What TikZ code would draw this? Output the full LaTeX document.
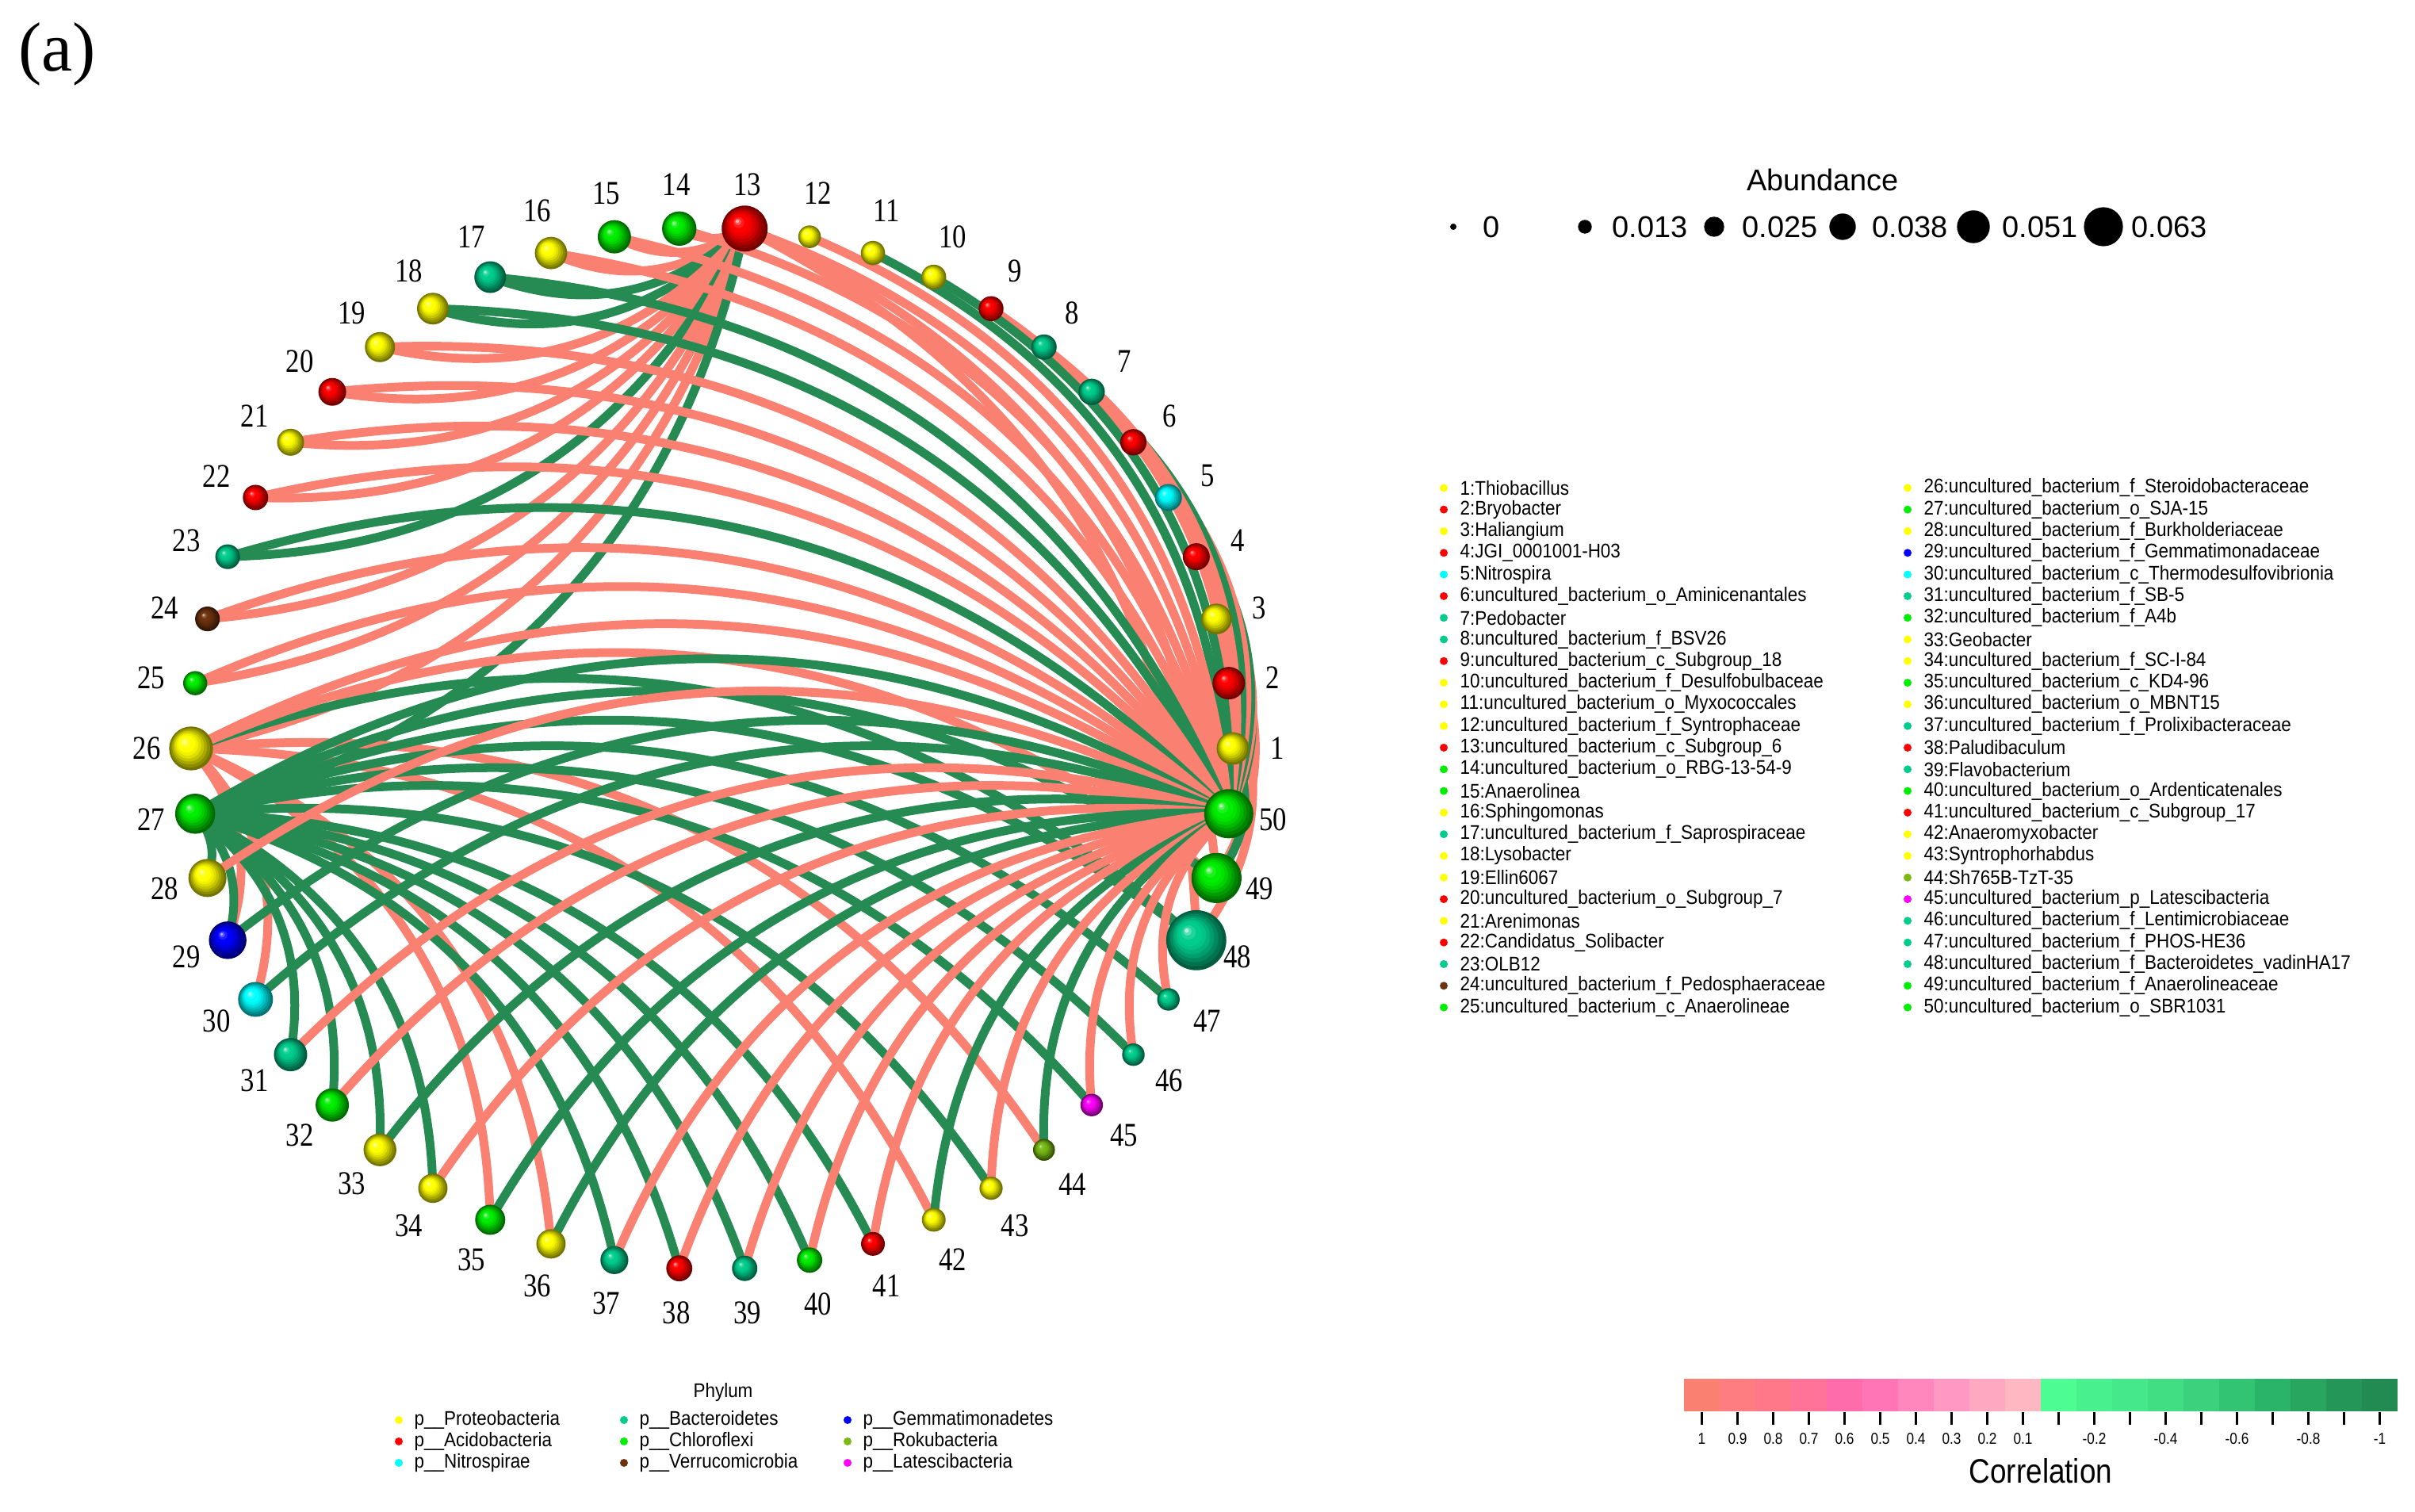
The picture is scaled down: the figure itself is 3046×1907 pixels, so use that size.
\documentclass[tikz,border=0pt]{standalone}
\usepackage{fontspec}
\setmainfont{Liberation Serif}
\newfontfamily\lblfont[FakeStretch=0.83]{Liberation Serif}
\newfontfamily\legfont[FakeStretch=0.9]{Liberation Sans}
\newfontfamily\absfont{Liberation Sans}
\newfontfamily\cbfont[FakeStretch=0.86]{Liberation Sans}
\usetikzlibrary{calc}
\pgfdeclarelayer{edges}
\pgfsetlayers{edges,main}
\definecolor{cY}{RGB}{255,255,0}
\definecolor{cR}{RGB}{255,0,0}
\definecolor{cC}{RGB}{0,255,255}
\definecolor{cB}{RGB}{0,205,140}
\definecolor{cG}{RGB}{0,238,0}
\definecolor{cBr}{RGB}{110,50,15}
\definecolor{cBl}{RGB}{0,0,255}
\definecolor{cRk}{RGB}{120,185,20}
\definecolor{cM}{RGB}{255,0,255}
\definecolor{esal}{RGB}{250,128,114}
\definecolor{egrn}{RGB}{38,139,82}
\tikzset{
  sphere/.style={circle, inner sep=0pt, draw=none, minimum size=#1},
  conn/.style={line width=1.1mm},
  numlbl/.style={font=\lblfont\fontsize{11.9}{12}\selectfont, inner sep=0pt},
  legtext/.style={font=\legfont\fontsize{7.1}{8}\selectfont, anchor=west, inner sep=0pt},
  abstext/.style={font=\absfont\fontsize{10.8}{12}\selectfont, inner sep=0pt},
  cbtext/.style={font=\cbfont\fontsize{5.7}{6}\selectfont, inner sep=0pt},
}
\begin{document}
\begin{tikzpicture}[x=0.1mm,y=0.1mm]
\useasboundingbox (0,0) rectangle (3046,1907);
\node[font=\fontsize{25}{28}\selectfont, inner sep=0pt] (tag) at (72,1839) {(a)};
\coordinate (C) at (898,963);
% nodes (spheres)
\foreach \i/\r/\col in {
1/20.5/cY,2/20.5/cR,3/19.3/cY,4/17/cR,5/17/cC,6/16.6/cR,7/16.6/cB,8/16/cB,9/15.7/cR,10/15.7/cY,
11/15.3/cY,12/14.3/cY,13/29/cR,14/21.7/cG,15/21/cG,16/20.4/cY,17/20/cB,18/20/cY,19/19/cY,20/17.5/cR,
21/17/cY,22/16/cR,23/15.6/cB,24/15.6/cBr,25/15.2/cG,26/27.7/cY,27/25.3/cG,28/24/cY,29/23.7/cBl,30/22/cC,
31/21/cB,32/21/cG,33/20.7/cY,34/18.5/cY,35/19/cG,36/18.5/cY,37/17.6/cB,38/16.4/cR,39/16/cB,40/16/cG,
41/15/cR,42/15/cY,43/14.6/cY,44/13.8/cRk,45/14.2/cM,46/14.2/cB,47/14.2/cB,48/37.9/cB,49/31.6/cG,50/31/cG}{
  \node[sphere={2*\r*0.1mm}] (n\i) at ($(C)+({(\i-1)*7.2}:657)$) {};
  \foreach \t/\m in {0/45!black,0.1/55!black,0.2/66!black,0.3/77!black,0.4/87!black,0.5/95!black,
                     0.6/100!white,0.76/88!white,0.86/65!white,0.93/30!white}{
    \fill[\col!\m] ($(n\i.center)+({-0.34*\r*\t},{0.34*\r*\t})$) circle[radius={(1-\t)*\r*0.1mm}];
  }
  \node[numlbl] (l\i) at ($(C)+({(\i-1)*7.2}:713)$) {\i};
}
% edges
\begin{pgfonlayer}{edges}
\foreach \a/\b/\c in {
13/14/esal,13/15/esal,13/16/esal,13/17/egrn,13/18/egrn,13/19/esal,13/20/esal,13/21/esal,13/22/esal,
13/23/egrn,13/24/esal,13/25/esal,13/26/esal,13/27/egrn,13/48/esal,13/49/esal,
26/29/esal,26/30/esal,26/35/esal,26/36/esal,26/42/esal,26/44/esal,26/48/egrn,26/49/esal,
27/28/egrn,27/29/egrn,27/31/egrn,27/32/egrn,27/33/egrn,27/34/egrn,27/37/egrn,27/38/egrn,27/39/egrn,
27/40/egrn,27/41/egrn,27/43/egrn,27/45/egrn,27/46/egrn,27/47/egrn,27/48/egrn,27/49/egrn,
2/48/esal,3/49/esal,1/49/egrn,
1/50/egrn,2/50/egrn,3/50/egrn,4/50/esal,5/50/egrn,6/50/esal,7/50/egrn,8/50/esal,9/50/esal,10/50/egrn,
11/50/egrn,12/50/esal,13/50/esal,14/50/esal,15/50/esal,16/50/esal,17/50/egrn,18/50/egrn,19/50/esal,
20/50/esal,21/50/esal,22/50/esal,23/50/egrn,24/50/esal,25/50/esal,26/50/esal,27/50/egrn,28/50/esal,
29/50/egrn,30/50/egrn,31/50/esal,32/50/esal,33/50/egrn,34/50/esal,35/50/egrn,36/50/egrn,37/50/esal,
38/50/esal,39/50/esal,40/50/esal,41/50/esal,42/50/egrn,43/50/esal,44/50/egrn,45/50/esal,46/50/esal,47/50/esal}{
  \coordinate (m) at ($(n\a.center)!0.5!(n\b.center)$);
  \coordinate (q) at ($(m)!0.6!90:(n\b.center)$);
  \draw[conn,\c] (n\a.center) .. controls ($(n\a.center)!0.6667!(q)$) and ($(n\b.center)!0.6667!(q)$) .. (n\b.center);
}
\end{pgfonlayer}
% abundance legend
\node[abstext] (abt) at (2299,1680) {Abundance};
\foreach \k/\x/\r/\t/\tx in {1/1833/4/0/1870,2/1999/8.7/0.013/2033,3/2162/12.7/0.025/2197,4/2324/16.7/0.038/2361,5/2489/20.7/0.051/2525,6/2653/24.6/0.063/2688}{
  \fill[black] (\x,1621) circle[radius=\r*0.1mm];
  \node[abstext, anchor=west] (ab\k) at (\tx,1621) {\t};
}
% taxa legend
\foreach \k/\col/\txt in {
1/cY/{1:Thiobacillus},2/cR/{2:Bryobacter},3/cY/{3:Haliangium},4/cR/{4:JGI\_0001001-H03},5/cC/{5:Nitrospira},
6/cR/{6:uncultured\_bacterium\_o\_Aminicenantales},7/cB/{7:Pedobacter},8/cB/{8:uncultured\_bacterium\_f\_BSV26},
9/cR/{9:uncultured\_bacterium\_c\_Subgroup\_18},10/cY/{10:uncultured\_bacterium\_f\_Desulfobulbaceae},
11/cY/{11:uncultured\_bacterium\_o\_Myxococcales},12/cY/{12:uncultured\_bacterium\_f\_Syntrophaceae},
13/cR/{13:uncultured\_bacterium\_c\_Subgroup\_6},14/cG/{14:uncultured\_bacterium\_o\_RBG-13-54-9},
15/cG/{15:Anaerolinea},16/cY/{16:Sphingomonas},17/cB/{17:uncultured\_bacterium\_f\_Saprospiraceae},
18/cY/{18:Lysobacter},19/cY/{19:Ellin6067},20/cR/{20:uncultured\_bacterium\_o\_Subgroup\_7},
21/cY/{21:Arenimonas},22/cR/{22:Candidatus\_Solibacter},23/cB/{23:OLB12},
24/cBr/{24:uncultured\_bacterium\_f\_Pedosphaeraceae},25/cG/{25:uncultured\_bacterium\_c\_Anaerolineae},
26/cY/{26:uncultured\_bacterium\_f\_Steroidobacteraceae},27/cG/{27:uncultured\_bacterium\_o\_SJA-15},
28/cY/{28:uncultured\_bacterium\_f\_Burkholderiaceae},29/cBl/{29:uncultured\_bacterium\_f\_Gemmatimonadaceae},
30/cC/{30:uncultured\_bacterium\_c\_Thermodesulfovibrionia},31/cB/{31:uncultured\_bacterium\_f\_SB-5},
32/cG/{32:uncultured\_bacterium\_f\_A4b},33/cY/{33:Geobacter},34/cY/{34:uncultured\_bacterium\_f\_SC-I-84},
35/cG/{35:uncultured\_bacterium\_c\_KD4-96},36/cY/{36:uncultured\_bacterium\_o\_MBNT15},
37/cB/{37:uncultured\_bacterium\_f\_Prolixibacteraceae},38/cR/{38:Paludibaculum},39/cB/{39:Flavobacterium},
40/cG/{40:uncultured\_bacterium\_o\_Ardenticatenales},41/cR/{41:uncultured\_bacterium\_c\_Subgroup\_17},
42/cY/{42:Anaeromyxobacter},43/cY/{43:Syntrophorhabdus},44/cRk/{44:Sh765B-TzT-35},
45/cM/{45:uncultured\_bacterium\_p\_Latescibacteria},46/cB/{46:uncultured\_bacterium\_f\_Lentimicrobiaceae},
47/cB/{47:uncultured\_bacterium\_f\_PHOS-HE36},48/cB/{48:uncultured\_bacterium\_f\_Bacteroidetes\_vadinHA17},
49/cG/{49:uncultured\_bacterium\_f\_Anaerolineaceae},50/cG/{50:uncultured\_bacterium\_o\_SBR1031}}{
  \pgfmathsetmacro\lx{\k<26 ? 1821 : 2406}
  \pgfmathsetmacro\ly{1291.6-27.3*mod(\k-1,25)}
  \fill[\col] (\lx,\ly) circle[radius=0.5mm];
  \node[legtext] (tx\k) at (\lx+20,\ly) {\txt};
}
% phylum legend
\node[legtext, anchor=center] (phy) at (912,151) {Phylum};
\foreach \k/\x/\y/\col/\txt in {
1/503/116/cY/{p\_\_Proteobacteria},2/503/89/cR/{p\_\_Acidobacteria},3/503/62/cC/{p\_\_Nitrospirae},
4/787/116/cB/{p\_\_Bacteroidetes},5/787/89/cG/{p\_\_Chloroflexi},6/787/62/cBr/{p\_\_Verrucomicrobia},
7/1069/116/cBl/{p\_\_Gemmatimonadetes},8/1069/89/cRk/{p\_\_Rokubacteria},9/1069/62/cM/{p\_\_Latescibacteria}}{
  \fill[\col] (\x,\y) circle[radius=0.5mm];
  \node[legtext] (ph\k) at (\x+19,\y) {\txt};
}
% colour bar
\foreach \k/\ra/\ga/\ba in {1/250/128/114,2/254/125/128,3/254/120/138,4/255/115/152,5/255/108/172,
6/255/117/182,7/255/135/190,8/255/152/194,9/255/168/193,10/255/183/193,
11/78/252/148,12/72/240/142,13/69/232/138,14/65/222/132,15/60/210/125,
16/50/195/115,17/42/180/105,18/40/165/95,19/36/150/88,20/34/139/82}{
  \fill[fill={rgb,255:red,\ra;green,\ga;blue,\ba}] ({2124+45*(\k-1)},127) rectangle ({2124+45*\k},168);
  \draw[line width=0.22mm] ({2146.5+45*(\k-1)},110) -- ({2146.5+45*(\k-1)},126);
}
\foreach \k/\t in {1/1,2/0.9,3/0.8,4/0.7,5/0.6,6/0.5,7/0.4,8/0.3,9/0.2,10/0.1,12/-0.2,14/-0.4,16/-0.6,18/-0.8,20/-1}{
  \node[cbtext] (cb\k) at ({2146.5+45*(\k-1)},92) {\t};
}
\node[font=\cbfont\fontsize{12.2}{13}\selectfont, inner sep=0pt] (corr) at (2574,52) {Correlation};
\end{tikzpicture}
\end{document}
